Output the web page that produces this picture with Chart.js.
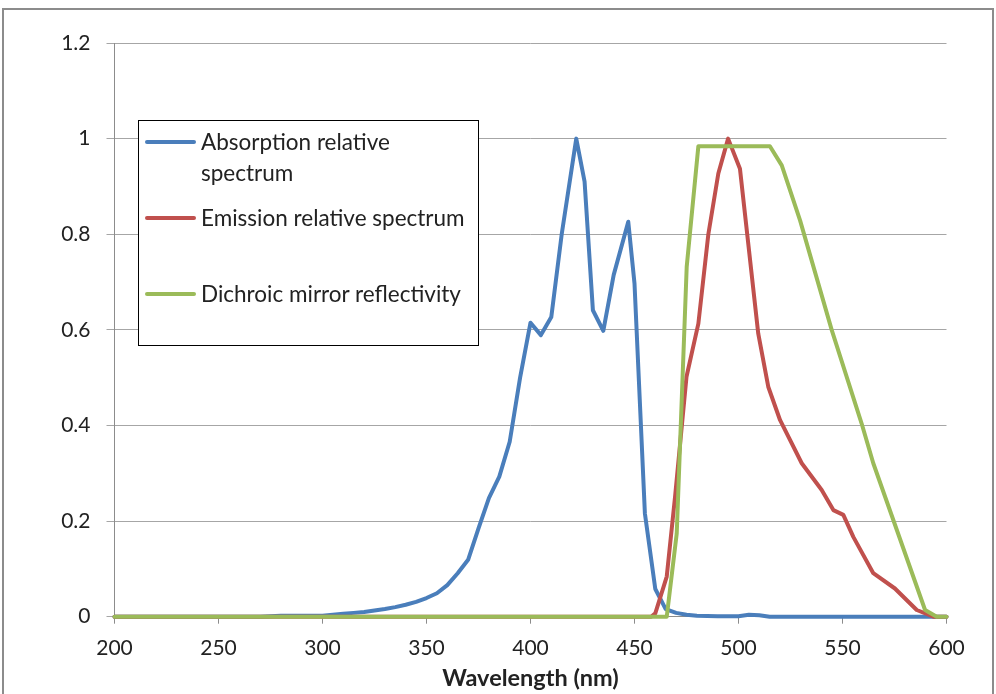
<!DOCTYPE html>
<html>
<head>
<meta charset="utf-8">
<script src="https://cdn.jsdelivr.net/npm/chart.js@4"></script>
<style>
  body { margin: 0; background: #fff; }
  #wrap { position: relative; width: 996px; height: 694px; overflow: hidden; }
  #frame { position: absolute; left: 2px; top: 8px; width: 988px; height: 700px; border: 2px solid #8c8c8c; }
  canvas { position: absolute; left: 0; top: 0; }
  #legend { position: absolute; left: 138px; top: 120px; width: 339px; height: 224px; border: 1px solid #000; background: #fff;
    font-family: Lato, "Open Sans", sans-serif; font-size: 22.5px; color: #222; }
  .item { position: absolute; left: 6px; }
  .item .swatch { position: absolute; left: 0; width: 51px; height: 4px; border-radius: 2px; }
  .item .txt { position: absolute; left: 56px; width: 280px; line-height: 31px; white-space: nowrap; }
</style>
</head>
<body>
<div id="wrap">
  <div id="frame"></div>
  <canvas id="spectra" width="996" height="694"></canvas>
  <div id="legend"></div>
</div>
<script>
const seriesNames = ['Absorption relative\nspectrum', 'Emission relative spectrum', 'Dichroic mirror reflectivity'];
const seriesColors = ['#4A7EBB', '#C0504D', '#9BBB59'];

const absorptionNm = [200, 270, 275, 280, 290, 300, 305, 310, 315, 320, 325, 330, 335, 340, 345, 350, 355, 360, 365, 370,
  375, 380, 385, 390, 395, 400, 405, 410, 415, 422, 426, 430, 435, 440, 447, 450, 455, 460, 465, 470, 475, 480, 490, 500, 505, 510, 515, 600];
const absorptionVal = [0, 0, 0.001, 0.002, 0.002, 0.002, 0.004, 0.006, 0.008, 0.010, 0.013, 0.016, 0.020, 0.025, 0.031, 0.039, 0.049, 0.066, 0.091, 0.119,
  0.185, 0.248, 0.293, 0.366, 0.500, 0.615, 0.589, 0.627, 0.800, 1.000, 0.910, 0.641, 0.598, 0.715, 0.826, 0.697, 0.216, 0.058, 0.016, 0.008, 0.004, 0.002, 0.001, 0.001, 0.004, 0.003, 0, 0];

const emissionNm = [200, 458, 460, 465.5, 469.5, 475, 480.7, 485.5, 490.3, 495, 500.7, 509.5, 514.3, 520, 530.4, 540, 545.6, 550.4, 555.2, 564.8, 575.2, 585.7, 593.7, 600];
const emissionVal = [0, 0, 0.007, 0.084, 0.251, 0.502, 0.613, 0.800, 0.927, 1.000, 0.937, 0.592, 0.481, 0.411, 0.321, 0.265, 0.223, 0.213, 0.167, 0.091, 0.059, 0.014, 0, 0];

const mirrorNm = [200, 465.5, 470.3, 475.1, 480.7, 515.1, 520.8, 529.6, 544.8, 559.2, 564.8, 589.7, 595.3, 600];
const mirrorVal = [0, 0, 0.174, 0.732, 0.984, 0.984, 0.944, 0.829, 0.600, 0.404, 0.321, 0.014, 0, 0];

const xTicks = [200, 250, 300, 350, 400, 450, 500, 550, 600];
const yTicks = [0, 0.2, 0.4, 0.6, 0.8, 1, 1.2];

function toPoints(xs, ys) {
  return xs.map((x, i) => ({ x, y: ys[i] }));
}

const datasets = [
  { label: seriesNames[0], data: toPoints(absorptionNm, absorptionVal), borderColor: seriesColors[0], order: 3 },
  { label: seriesNames[1], data: toPoints(emissionNm, emissionVal), borderColor: seriesColors[1], order: 2 },
  { label: seriesNames[2], data: toPoints(mirrorNm, mirrorVal), borderColor: seriesColors[2], order: 1 }
].map(d => Object.assign(d, { borderWidth: 4, pointRadius: 0, fill: false, tension: 0, clip: 6,
  borderJoinStyle: 'round', borderCapStyle: 'round' }));

const tickFont = { family: 'Lato, "Open Sans", sans-serif', size: 21 };

new Chart(document.getElementById('spectra'), {
  type: 'line',
  data: { datasets },
  options: {
    responsive: false,
    animation: false,
    layout: { padding: { top: 43, right: 49.5, left: 0, bottom: 0 } },
    plugins: { legend: { display: false }, tooltip: { enabled: false } },
    scales: {
      x: {
        type: 'linear', min: 200, max: 600,
        afterBuildTicks: s => { s.ticks = xTicks.map(v => ({ value: v })); },
        afterFit: s => { s.height = 77.3; },
        ticks: { font: tickFont, color: '#222', padding: 12, maxRotation: 0, callback: v => String(v) },
        grid: { drawOnChartArea: false, drawTicks: true, tickLength: 7, color: '#8c8c8c' },
        border: { color: '#8c8c8c' },
        title: { display: true, text: 'Wavelength (nm)', color: '#222', padding: { top: 0, bottom: 1 },
          font: { family: 'Lato, "Open Sans", sans-serif', size: 23.5, weight: 'bold' } }
      },
      y: {
        min: 0, max: 1.2,
        afterBuildTicks: s => { s.ticks = yTicks.map(v => ({ value: v })); },
        afterFit: s => { s.width = 114.5; },
        ticks: { font: tickFont, color: '#222', padding: 16, callback: v => String(v) },
        grid: { color: '#a6a6a6', tickLength: 8 },
        border: { color: '#8c8c8c' }
      }
    }
  }
});

// legend box drawn in html, inside the plot like the original
const legend = document.getElementById('legend');
const rowTops = [5, 81, 157];
seriesNames.forEach((name, i) => {
  const row = document.createElement('div');
  row.className = 'item';
  row.style.top = rowTops[i] + 'px';
  row.innerHTML = `<div class="swatch" style="background:${seriesColors[i]};top:14px"></div>
    <div class="txt">${name.replace('\n', '<br>')}</div>`;
  legend.appendChild(row);
});
</script>
</body>
</html>
